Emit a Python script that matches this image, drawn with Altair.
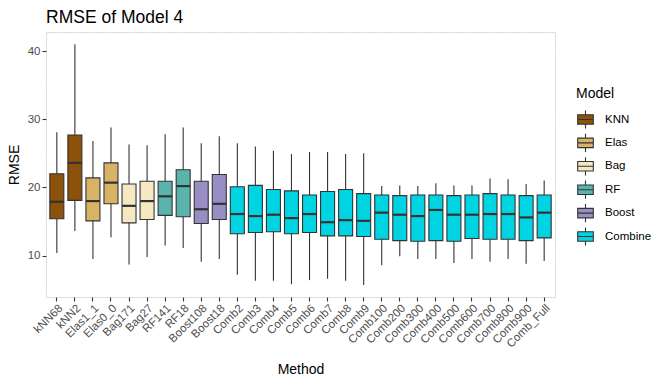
import altair as alt
import pandas as pd

methods = ["kNN68", "kNN2", "Elas1_1", "Elas0_0", "Bag171", "Bag27", "RF141", "RF18",
           "Boost108", "Boost18", "Comb2", "Comb3", "Comb4", "Comb5", "Comb6", "Comb7",
           "Comb8", "Comb9", "Comb100", "Comb200", "Comb300", "Comb400", "Comb500",
           "Comb600", "Comb700", "Comb800", "Comb900", "Comb_Full"]
models = ["KNN"] * 2 + ["Elas"] * 2 + ["Bag"] * 2 + ["RF"] * 2 + ["Boost"] * 2 + ["Combine"] * 18

lower = [10.4, 13.6, 9.5, 12.7, 8.7, 9.8, 11.5, 11.1, 9.1, 9.5,
         7.2, 6.3, 6.3, 5.8, 6.4, 6.6, 6.3, 5.7, 8.6, 9.9, 9.5, 9.5, 8.9,
         9.5, 9.1, 9.5, 8.8, 9.2]
q1 = [15.4, 18.1, 15.1, 17.6, 14.8, 15.3, 15.9, 15.7, 14.7, 15.3,
      13.2, 13.4, 13.5, 13.2, 13.4, 12.9, 12.9, 12.8, 12.4, 12.2, 12.1, 12.2, 12.1,
      12.5, 12.4, 12.4, 12.2, 12.6]
median = [17.9, 23.6, 18.0, 20.7, 17.3, 18.0, 18.7, 20.2, 16.8, 17.6,
          16.1, 15.8, 16.0, 15.5, 16.1, 14.9, 15.2, 15.1, 16.3, 16.0, 15.8, 16.7, 16.0,
          16.0, 16.1, 16.1, 15.6, 16.3]
q3 = [22.0, 27.7, 21.4, 23.6, 20.5, 20.9, 20.9, 22.6, 20.9, 21.9,
      20.1, 20.3, 19.7, 19.5, 18.9, 19.4, 19.7, 19.1, 18.9, 18.8, 18.9, 18.9, 18.8,
      18.9, 19.1, 18.9, 18.8, 18.9]
upper = [28.1, 41.0, 26.8, 28.8, 26.3, 26.2, 27.8, 28.8, 26.5, 27.5,
         26.5, 26.0, 25.4, 24.9, 25.2, 25.2, 24.9, 25.0, 20.2, 20.3, 20.2, 20.6, 20.3,
         20.3, 21.3, 21.2, 20.5, 21.0]

model_order = ["KNN", "Elas", "Bag", "RF", "Boost", "Combine"]
model_colors = ["#8C510A", "#D8B365", "#F6E8C3", "#5AB4AC", "#998EC3", "#00D4E3"]
minor_grid = [5, 15, 25, 35]

df = pd.DataFrame({"Method": methods, "Model": models, "lower": lower, "q1": q1,
                   "median": median, "q3": q3, "upper": upper})
grid_df = pd.DataFrame({"v": minor_grid})

font = "Liberation Sans"
ydom = [3.93, 42.8]

x_axis = alt.Axis(labelAngle=-45, labelAlign="right", labelBaseline="top",
                  bandPosition=0.5, grid=True, gridColor="#FFFFFF", gridWidth=1.2,
                  gridOpacity=1, zindex=0,
                  domain=False, tickColor="#333333", tickSize=4, tickWidth=1.1,
                  labelColor="#4D4D4D", labelFontSize=11.5, labelFont=font,
                  labelPadding=1, titleFont=font, titleFontSize=14,
                  titleFontWeight="normal", titleColor="black", titlePadding=13)
x_enc = alt.X("Method:N", sort=methods, title="Method",
              scale=alt.Scale(paddingInner=0, paddingOuter=0.1), axis=x_axis)

yscale = alt.Scale(domain=ydom, nice=False, zero=False)
y_axis = alt.Axis(values=[10, 20, 30, 40], grid=True, gridColor="#FFFFFF",
                  gridWidth=1.3, gridOpacity=1, zindex=0, domain=False,
                  tickColor="#333333", tickSize=4,
                  tickWidth=1.1, labelColor="#4D4D4D", labelFontSize=11.5,
                  labelFont=font, labelPadding=2, titleFont=font,
                  titleFontSize=14, titleFontWeight="normal", titleColor="black",
                  titlePadding=6)

minor = alt.Chart(grid_df).mark_rule(color="#FFFFFF", strokeWidth=0.7, opacity=1).encode(
    y=alt.Y("v:Q", scale=yscale, axis=y_axis, title="RMSE")
)

whisk = alt.Chart(df).mark_rule(color="#333333", strokeWidth=1.1).encode(
    x=x_enc,
    y=alt.Y("lower:Q", scale=yscale, axis=y_axis, title="RMSE"),
    y2="upper:Q",
)

box = alt.Chart(df).mark_bar(size=14, stroke="#333333", strokeWidth=1.1, opacity=1).encode(
    x=x_enc,
    y=alt.Y("q1:Q", scale=yscale, axis=y_axis, title="RMSE"),
    y2="q3:Q",
    color=alt.Color("Model:N", sort=model_order,
                    scale=alt.Scale(domain=model_order, range=model_colors),
                    legend=alt.Legend(
                        title="Model", orient="none", legendX=530, legendY=55,
                        titleFont=font, titleFontSize=14, titleFontWeight="normal",
                        titleColor="black", titlePadding=9,
                        labelFont=font, labelFontSize=11.5, labelColor="black",
                        symbolType="M-0.9,-0.55H0.9V0.55H-0.9Z M-0.9,0H0.9 M0,-0.55V-1.05 M0,0.55V1.05",
                        symbolSize=300, symbolStrokeColor="#333333", symbolStrokeWidth=1.1,
                        symbolOpacity=1, rowPadding=0.4, labelOffset=10)),
)

med = alt.Chart(df).mark_tick(size=14, thickness=2.2, color="#333333", opacity=1).encode(
    x=x_enc,
    y=alt.Y("median:Q", scale=yscale, axis=y_axis, title="RMSE"),
)

chart = alt.layer(minor, whisk, box, med).properties(
    width=509, height=265,
    title=alt.TitleParams("RMSE of Model 4", anchor="start", frame="group", font=font,
                          fontSize=17.5, fontWeight="normal", color="black", offset=6),
    autosize=alt.AutoSizeParams(type="none"),
    padding={"left": 38, "top": 24, "right": 103, "bottom": 79},
).configure_view(fill="#EBEBEB", strokeWidth=0).configure(background="white")

chart.save("out.html", embed_options={"renderer": "svg", "actions": False})
